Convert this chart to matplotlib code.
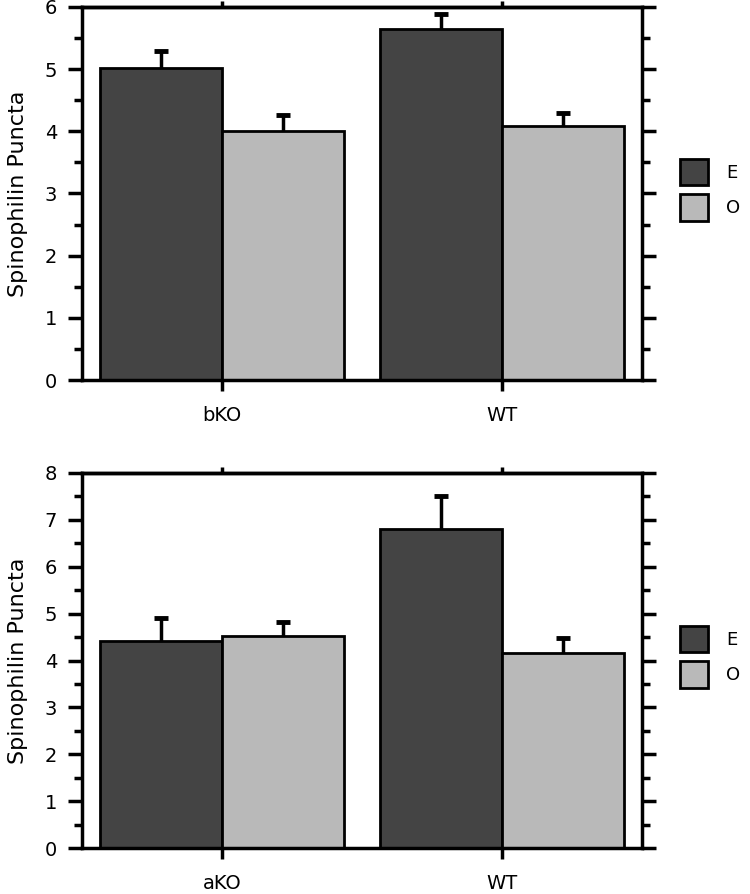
import matplotlib
matplotlib.use("Agg")
import matplotlib.pyplot as plt
import numpy as np
from matplotlib.patches import Patch
from matplotlib.ticker import MultipleLocator

plt.rcParams['font.family'] = ['DejaVu Sans']

series_names = ["E", "O"]
colors = ["#444444", "#b9b9b9"]

top_categories = ["bKO", "WT"]
top_E = [5.02, 5.64]
top_E_err = [0.28, 0.24]
top_O = [4.00, 4.08]
top_O_err = [0.26, 0.22]

bot_categories = ["aKO", "WT"]
bot_E = [4.42, 6.80]
bot_E_err = [0.48, 0.70]
bot_O = [4.53, 4.17]
bot_O_err = [0.29, 0.31]

fig = plt.figure(figsize=(7.5, 8.94), dpi=100)


def upper_errorbar(ax, x, y, err):
    cont = ax.errorbar(x, y, yerr=[np.zeros(len(y)), err], fmt="none", ecolor="black",
                       elinewidth=2.5, capsize=5, capthick=3.5, zorder=3)
    caps = cont.lines[1]
    if len(caps) == 2:
        caps[0].set_visible(False)


def panel(rect, cats, e, ee, o, oe, ymax):
    ax = fig.add_axes(rect)
    x = np.arange(len(cats))
    w = 0.435
    ax.bar(x - w / 2, e, w, color=colors[0], edgecolor="black", linewidth=2, zorder=2)
    ax.bar(x + w / 2, o, w, color=colors[1], edgecolor="black", linewidth=2, zorder=2)
    upper_errorbar(ax, x - w / 2, e, ee)
    upper_errorbar(ax, x + w / 2, o, oe)
    ax.set_xlim(-0.5, 1.5)
    ax.set_ylim(0, ymax)
    ax.set_xticks(x)
    ax.set_xticklabels(cats)
    ax.yaxis.set_major_locator(MultipleLocator(1))
    ax.yaxis.set_minor_locator(MultipleLocator(0.5))
    for s in ax.spines.values():
        s.set_linewidth(2.5)
    ax.tick_params(axis="y", which="both", direction="out", left=True, right=True,
                   width=2.5, labelsize=14, pad=8)
    ax.tick_params(axis="y", which="major", length=10)
    ax.tick_params(axis="y", which="minor", length=6)
    ax.tick_params(axis="x", which="major", direction="out", length=8, width=2.5,
                   labelsize=14, pad=11)
    sec = ax.secondary_xaxis("top")
    sec.set_xticks(x)
    sec.set_xticklabels([])
    sec.tick_params(direction="out", length=4, width=2.5)
    sec.spines["top"].set_linewidth(2.5)
    ax.set_ylabel("Spinophilin Puncta", fontsize=16, labelpad=12)
    handles = [Patch(facecolor=colors[0], edgecolor="black", linewidth=2, label=series_names[0]),
               Patch(facecolor=colors[1], edgecolor="black", linewidth=2, label=series_names[1])]
    ax.legend(handles=handles, loc="center left", bbox_to_anchor=(1.055, 0.51),
              frameon=False, fontsize=13, handlelength=1.55, handleheight=1.9,
              handletextpad=1.0, labelspacing=0.5, borderaxespad=0)
    return ax


panel([82 / 750, 1 - 380 / 894, 560 / 750, 373 / 894], top_categories,
      top_E, top_E_err, top_O, top_O_err, 6)
panel([82 / 750, 1 - 848 / 894, 560 / 750, 375 / 894], bot_categories,
      bot_E, bot_E_err, bot_O, bot_O_err, 8)

fig.savefig("out.png", dpi=100)
